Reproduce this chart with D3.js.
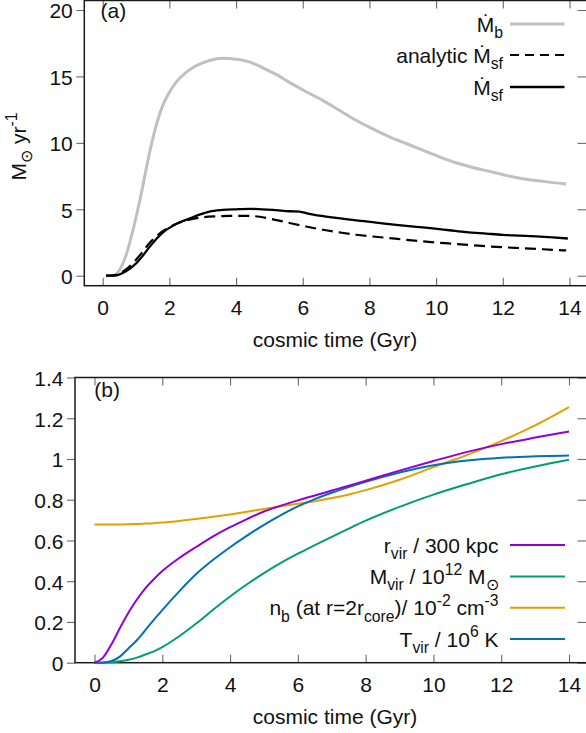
<!DOCTYPE html>
<html>
<head>
<meta charset="utf-8">
<script src="https://cdn.jsdelivr.net/npm/d3@7/dist/d3.min.js"></script>
<style>
  html, body { margin: 0; padding: 0; background: #fff; }
  svg { display: block; }
  text { font-family: "Liberation Sans", Arial, Helvetica, sans-serif; fill: #111; }
</style>
</head>
<body>
<svg id="chart" width="586" height="733"></svg>
<script>
// ---------- panel (a): accretion and star formation rates (Msun / yr) ----------
const mbTime = [0.3, 0.4, 0.5, 0.6, 0.7, 0.8, 0.9, 1.0, 1.1, 1.2, 1.3, 1.4, 1.5, 1.65, 1.8, 2.0, 2.2, 2.5, 2.8, 3.2, 3.6, 4.0, 4.4, 4.8, 5.2, 5.6, 6.1, 6.6, 7.1, 7.6, 8.1, 8.6, 9.1, 9.6, 10.1, 10.6, 11.1, 11.6, 12.1, 12.6, 13.2, 13.9];
const mbRate = [0, 0.1, 0.4, 0.9, 1.55, 2.4, 3.35, 4.4, 5.5, 6.7, 8.0, 9.2, 10.3, 11.7, 12.8, 13.8, 14.55, 15.3, 15.8, 16.2, 16.37, 16.3, 16.1, 15.65, 15.15, 14.55, 13.85, 13.2, 12.45, 11.7, 11.05, 10.45, 9.95, 9.45, 8.95, 8.5, 8.15, 7.85, 7.55, 7.3, 7.1, 6.9];

const sfTime = [0.1, 0.3, 0.45, 0.6, 0.75, 0.9, 1.05, 1.2, 1.4, 1.6, 1.8, 2.0, 2.3, 2.6, 2.9, 3.2, 3.6, 4.0, 4.4, 4.8, 5.2, 5.6, 5.9, 6.2, 6.5, 7.0, 7.6, 8.2, 8.8, 9.4, 9.9, 10.4, 10.9, 11.5, 12.0, 12.5, 13.0, 13.5, 13.95];
const sfRate = [0, 0, 0.05, 0.2, 0.42, 0.7, 1.05, 1.5, 2.15, 2.75, 3.25, 3.6, 4.0, 4.3, 4.6, 4.83, 4.95, 5.0, 5.03, 5.0, 4.93, 4.85, 4.83, 4.65, 4.52, 4.35, 4.16, 4.0, 3.83, 3.68, 3.56, 3.42, 3.28, 3.17, 3.08, 3.02, 2.96, 2.88, 2.8];

const anTime = [0.1, 0.3, 0.45, 0.6, 0.75, 0.9, 1.05, 1.2, 1.4, 1.6, 1.8, 2.0, 2.3, 2.6, 3.0, 3.4, 3.8, 4.4, 5.0, 5.6, 6.1, 6.6, 7.1, 7.6, 8.1, 8.6, 9.1, 9.6, 10.1, 10.6, 11.1, 11.6, 12.1, 12.6, 13.2, 13.9];
const anRate = [0, 0.02, 0.1, 0.3, 0.58, 0.92, 1.35, 1.8, 2.45, 2.95, 3.35, 3.65, 4.0, 4.22, 4.4, 4.47, 4.5, 4.5, 4.3, 3.97, 3.7, 3.46, 3.26, 3.08, 2.95, 2.83, 2.7, 2.58, 2.48, 2.38, 2.29, 2.2, 2.13, 2.07, 1.99, 1.9];

const rateTicks = [0, 5, 10, 15, 20];
const timeTicks = [0, 2, 4, 6, 8, 10, 12, 14];

// ---------- panel (b): halo properties, normalised ----------
const haloTime = [0, 0.25, 0.5, 0.75, 1, 1.25, 1.5, 1.75, 2, 2.5, 3, 3.5, 4, 4.5, 5, 5.5, 6, 6.5, 7, 7.5, 8, 9, 10, 11, 12, 13, 14];
const rVir = [0, 0.025, 0.09, 0.17, 0.245, 0.31, 0.365, 0.41, 0.45, 0.514, 0.568, 0.62, 0.665, 0.705, 0.742, 0.771, 0.797, 0.821, 0.845, 0.869, 0.893, 0.943, 0.99, 1.035, 1.073, 1.105, 1.135];
const mVir = [0, 0, 0.002, 0.007, 0.014, 0.025, 0.04, 0.056, 0.077, 0.13, 0.192, 0.26, 0.325, 0.385, 0.44, 0.49, 0.535, 0.577, 0.618, 0.658, 0.697, 0.765, 0.825, 0.877, 0.925, 0.963, 0.996];
const nCore = [0.678, 0.678, 0.678, 0.679, 0.68, 0.681, 0.683, 0.685, 0.688, 0.696, 0.705, 0.716, 0.728, 0.741, 0.755, 0.768, 0.78, 0.793, 0.808, 0.826, 0.847, 0.898, 0.96, 1.02, 1.088, 1.165, 1.255];
const tVir = [0, 0.001, 0.008, 0.03, 0.07, 0.11, 0.16, 0.21, 0.258, 0.35, 0.435, 0.505, 0.567, 0.624, 0.677, 0.725, 0.767, 0.803, 0.834, 0.862, 0.888, 0.934, 0.969, 0.992, 1.006, 1.013, 1.017];

const haloTicks = [0, 0.2, 0.4, 0.6, 0.8, 1, 1.2, 1.4];

// ---------- layout ----------
const FS = 21;          // tick / title font size
const LFS = 21;         // legend font size
const svg = d3.select("#chart");

const panelA = { left: 84.3, right: 587.5, top: 0.5, bottom: 285.7,
  x: d3.scaleLinear().domain([0, 14]).range([102.7, 569.5]),
  y: d3.scaleLinear().domain([0, 20]).range([275.7, 10]) };
const panelB = { left: 75, right: 587.5, top: 377.5, bottom: 662.7,
  x: d3.scaleLinear().domain([0, 14]).range([94.5, 569]),
  y: d3.scaleLinear().domain([0, 1.4]).range([662.7, 377.5]) };

// rich text helper: segments of [string, "sub" | "sup" | undefined]
function rich(sel, parts, fs) {
  let shift = 0;
  parts.forEach(([s, kind]) => {
    let target = 0, size = fs;
    if (kind === "sub") { target = 0.3 * fs; size = 0.75 * fs; }
    if (kind === "sup") { target = -0.45 * fs; size = 0.75 * fs; }
    sel.append("tspan")
      .attr("dy", target - shift)
      .style("font-size", size + "px")
      .text(s);
    shift = target;
  });
  return sel;
}

function drawAxes(p, yTicks, yFormat) {
  const g = svg.append("g");
  const tickColor = "#6b6b6b";
  // left: outward ticks with labels
  const left = g.append("g").attr("transform", `translate(${p.left},0)`)
    .call(d3.axisLeft(p.y).tickValues(yTicks).tickSize(8).tickPadding(3.5).tickFormat(yFormat));
  left.selectAll(".tick text").attr("dy", "0.38em");
  // bottom: inward ticks with labels
  const bottom = g.append("g").attr("transform", `translate(0,${p.bottom})`)
    .call(d3.axisBottom(p.x).tickValues(timeTicks).tickSizeInner(-8).tickSizeOuter(0).tickPadding(14.5).tickFormat(d3.format("d")));
  // mirrored ticks on top and right
  const top = g.append("g").attr("transform", `translate(0,${p.top})`)
    .call(d3.axisTop(p.x).tickValues(timeTicks).tickSizeInner(-8).tickSizeOuter(0).tickFormat(""));
  const right = g.append("g").attr("transform", `translate(${p.right - 1},0)`)
    .call(d3.axisRight(p.y).tickValues(yTicks).tickSizeInner(-9).tickSizeOuter(0).tickFormat(""));
  [left, bottom, top, right].forEach(a => {
    a.select(".domain").remove();
    a.selectAll(".tick line").attr("stroke", tickColor).attr("stroke-width", 1.1);
    a.selectAll(".tick text").style("font-size", FS + "px").attr("fill", "#111")
      .style("font-family", "'Liberation Sans', Arial, sans-serif");
  });
  // frame
  g.append("rect")
    .attr("x", p.left).attr("y", p.top)
    .attr("width", p.right - p.left).attr("height", p.bottom - p.top)
    .attr("fill", "none").attr("stroke", "#1a1a1a").attr("stroke-width", 1.5);
  // x axis title
  g.append("text")
    .attr("x", 335).attr("y", p.bottom + 61)
    .attr("text-anchor", "middle").style("font-size", FS + "px")
    .text("cosmic time (Gyr)");
}

function drawSeries(p, xs, ys, color, width, dash) {
  const pts = xs.map((t, i) => [t, ys[i]]);
  const line = d3.line().x(d => p.x(d[0])).y(d => p.y(d[1])).curve(d3.curveMonotoneX);
  svg.append("path").datum(pts)
    .attr("d", line)
    .attr("fill", "none").attr("stroke", color).attr("stroke-width", width)
    .attr("stroke-linejoin", "round")
    .attr("stroke-dasharray", dash || null);
}

function legendRow(y, textRight, x0, x1, parts, color, width, dash) {
  svg.append("line").attr("x1", x0).attr("x2", x1).attr("y1", y).attr("y2", y)
    .attr("stroke", color).attr("stroke-width", width)
    .attr("stroke-dasharray", dash || null);
  const t = svg.append("text").attr("x", textRight).attr("y", y + 7.5)
    .attr("text-anchor", "end").style("font-size", LFS + "px");
  rich(t, parts, LFS);
}

// ---------- panel (a) ----------
drawAxes(panelA, rateTicks, d3.format("d"));
drawSeries(panelA, mbTime, mbRate, "#c0c0c0", 3);
drawSeries(panelA, anTime, anRate, "#000", 2.2, "11,6");
drawSeries(panelA, sfTime, sfRate, "#000", 2.3);

svg.append("text").attr("x", 100.5).attr("y", 18).style("font-size", FS + "px").text("(a)");

const yLab = svg.append("text")
  .attr("transform", "translate(26,146.5) rotate(-90)")
  .attr("text-anchor", "middle").style("font-size", FS + "px");
rich(yLab, [["M"], ["\u2299", "sub"], [" yr"], ["-1", "sup"]], FS);

legendRow(24, 503, 510, 564.5, [["\u1E40"], ["b", "sub"]], "#c0c0c0", 3);
legendRow(55, 503, 510, 564.5, [["analytic \u1E40"], ["sf", "sub"]], "#000", 2.2, "9,6");
legendRow(87, 503, 510, 564.5, [["\u1E40"], ["sf", "sub"]], "#000", 2.3);

// ---------- panel (b) ----------
drawAxes(panelB, haloTicks, d3.format("~g"));
drawSeries(panelB, haloTime, mVir, "#009e73", 2);
drawSeries(panelB, haloTime, nCore, "#e69f00", 2);
drawSeries(panelB, haloTime, tVir, "#0072b2", 2);
drawSeries(panelB, haloTime, rVir, "#9400d3", 2);

svg.append("text").attr("x", 94.3).attr("y", 396.5).style("font-size", FS + "px").text("(b)");

legendRow(545, 498.5, 510, 565, [["r"], ["vir", "sub"], [" / 300 kpc"]], "#9400d3", 2);
legendRow(576.5, 498.5, 510, 565, [["M"], ["vir", "sub"], [" / 10"], ["12", "sup"], [" M"], ["\u2299", "sub"]], "#009e73", 2);
legendRow(607.7, 498.5, 510, 565, [["n"], ["b", "sub"], [" (at r=2r"], ["core", "sub"], [")/ 10"], ["-2", "sup"], [" cm"], ["-3", "sup"]], "#e69f00", 2);
legendRow(639, 498.5, 510, 565, [["T"], ["vir", "sub"], [" / 10"], ["6", "sup"], [" K"]], "#0072b2", 2);
</script>
</body>
</html>
